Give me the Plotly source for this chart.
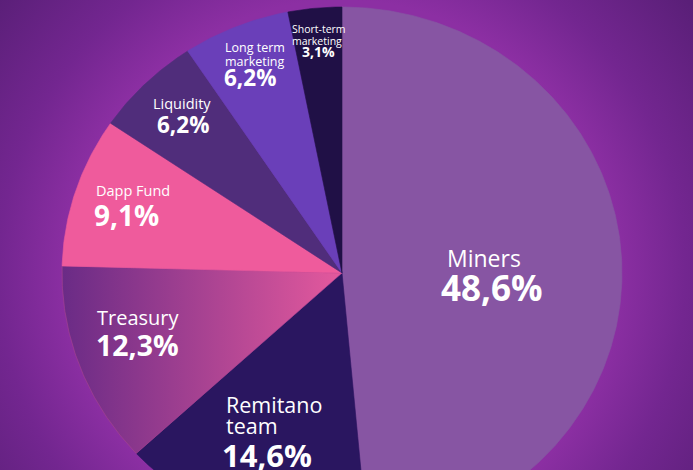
import base64
import numpy as np
import plotly.graph_objects as go

# ---- data ----
categories = ["Miners", "Remitano team", "Treasury", "Dapp Fund", "Liquidity",
              "Long term marketing", "Short-term marketing"]
values = [48.6, 14.6, 12.3, 9.1, 6.2, 6.2, 3.1]
value_labels = ["48,6%", "14,6%", "12,3%", "9,1%", "6,2%", "6,2%", "3,1%"]
name_labels = [["Miners"], ["Remitano", "team"], ["Treasury"], ["Dapp Fund"],
               ["Liquidity"], ["Long term", "marketing"], ["Short-term", "marketing"]]

# ---- style ----
W, H = 693, 470
CX, CY, RX, RY = 342, 273, 280, 266
colors = ["#8755a3", "#2a1660", None, "#ef5b9c", "#502d7b", "#6a3fb9", "#201046"]
treasury_grad = [[0, "#6a2b86"], [1, "#e4599d"]]
FONT = "Open Sans"

fig = go.Figure()

total = sum(values)
start = 0.0
for i, (cat, v) in enumerate(zip(categories, values)):
    a0 = start / total * 2 * np.pi
    a1 = (start + v) / total * 2 * np.pi
    start += v
    th = np.linspace(a0, a1, max(8, int(v * 6)))
    xs = np.concatenate([[CX], CX + RX * np.sin(th), [CX]])
    ys = np.concatenate([[CY], CY - RY * np.cos(th), [CY]])
    kw = {}
    if colors[i] is None:
        kw["fillgradient"] = dict(type="horizontal", colorscale=treasury_grad)
        lc = fc = "#a8438f"
    else:
        lc = fc = colors[i]
    fig.add_trace(go.Scatter(x=xs, y=ys, mode="lines", fill="toself",
                             fillcolor=fc, line=dict(color=lc, width=0.6),
                             hoverinfo="skip", showlegend=False, name=cat, **kw))

# ---- label layout: name lines (x, [y...], size), value (x, y, size) ----
label_pos = {
    "Miners": ((445, [258], 23), (439, 287, 35)),
    "Remitano team": ((224, [404, 425], 21.5), (220, 455, 31)),
    "Treasury": ((95, [317], 20), (94, 345, 28.5)),
    "Dapp Fund": ((94, [190], 14.5), (92, 215, 28)),
    "Liquidity": ((151, [103], 14.5), (155, 124, 22.5)),
    "Long term marketing": ((223, [47.5, 61.5], 12.5), (222, 77, 22.5)),
    "Short-term marketing": ((290, [29, 40.5], 10.5), (300, 51, 14)),
}
for cat, nl, vl in zip(categories, name_labels, value_labels):
    (nx, nys, ns), (vx, vy, vs) = label_pos[cat]
    for part, ny in zip(nl, nys):
        fig.add_annotation(x=nx, y=ny, text=part, showarrow=False, xanchor="left",
                           yanchor="middle", font=dict(family=FONT, size=ns, color="white"))
    fig.add_annotation(x=vx, y=vy, text=f"<b>{vl}</b>", showarrow=False,
                       xanchor="left", yanchor="middle",
                       font=dict(family=FONT, size=vs, color="white"))

# ---- background glow ----
svg = f"""<svg xmlns='http://www.w3.org/2000/svg' width='{W}' height='{H}'>
<defs><radialGradient id='g' gradientUnits='userSpaceOnUse' cx='{CX}' cy='{CY}' r='440'>
<stop offset='0' stop-color='#8e30a5'/>
<stop offset='0.62' stop-color='#8c2fa3'/>
<stop offset='0.78' stop-color='#732690'/>
<stop offset='1' stop-color='#5a1f78'/>
</radialGradient></defs>
<rect width='{W}' height='{H}' fill='url(#g)'/></svg>"""
src = "data:image/svg+xml;base64," + base64.b64encode(svg.encode()).decode()
fig.add_layout_image(source=src, xref="paper", yref="paper", x=0, y=1,
                     sizex=1, sizey=1, sizing="stretch", layer="below",
                     xanchor="left", yanchor="top")

fig.update_layout(
    width=W, height=H, margin=dict(l=0, r=0, t=0, b=0),
    paper_bgcolor="#6a2384", plot_bgcolor="rgba(0,0,0,0)",
    xaxis=dict(range=[0, W], visible=False, fixedrange=True),
    yaxis=dict(range=[H, 0], visible=False, fixedrange=True),
)
fig.write_html("out.html", config={"displayModeBar": False})
